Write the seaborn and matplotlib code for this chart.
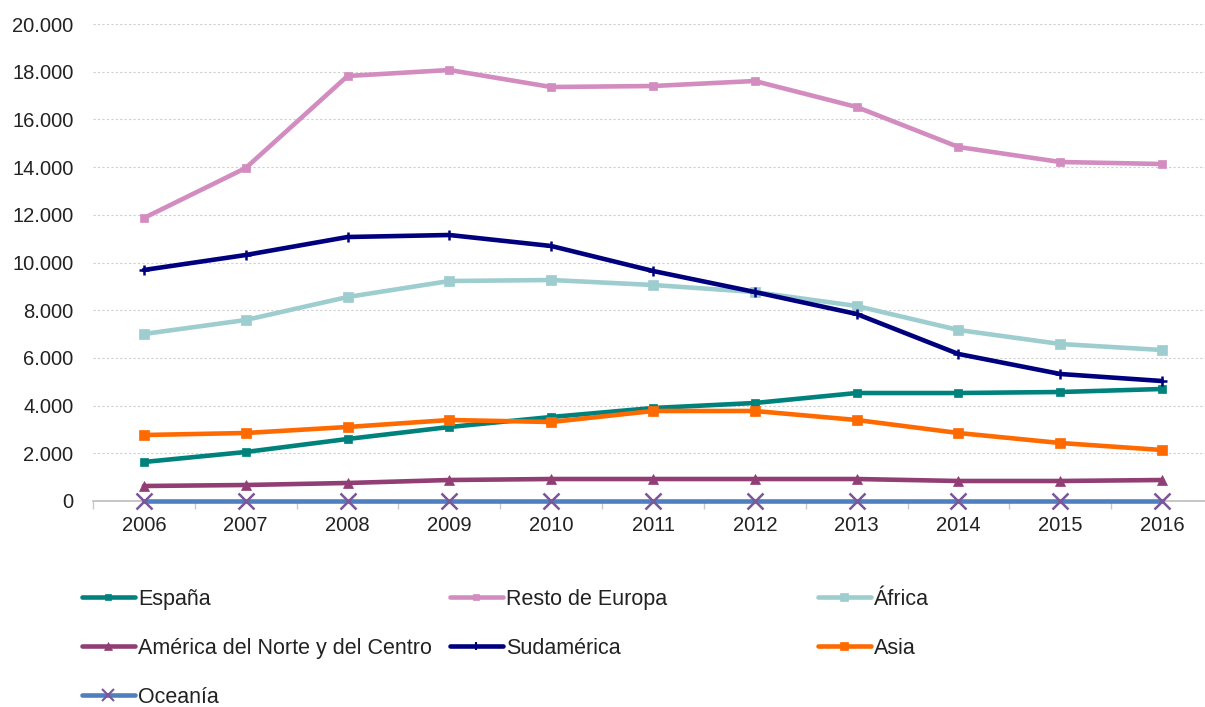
import pandas as pd
import seaborn as sns
from matplotlib import pyplot as plt
from matplotlib.lines import Line2D
from matplotlib.ticker import FuncFormatter, MultipleLocator

years = list(range(2006, 2017))

espana = [1635, 2055, 2600, 3103, 3522, 3899, 4109, 4528, 4528, 4570, 4696]
resto_europa = [11866, 13962, 17820, 18071, 17358, 17400, 17610, 16520, 14843, 14214, 14130]
africa = [7002, 7589, 8553, 9224, 9266, 9057, 8763, 8176, 7170, 6583, 6331]
america_nc = [629, 671, 755, 880, 922, 922, 922, 922, 839, 839, 880]
sudamerica = [9686, 10314, 11069, 11153, 10692, 9644, 8763, 7841, 6164, 5325, 5031]
asia = [2767, 2851, 3103, 3396, 3312, 3774, 3774, 3396, 2851, 2432, 2138]
oceania = [20, 20, 20, 20, 20, 20, 20, 20, 20, 20, 20]

series = [
    # name, values, line colour, marker, marker size, marker colour
    ("España", espana, "#00827C", "s", 6, "#00827C"),
    ("Resto de Europa", resto_europa, "#D38CBF", "s", 6, "#D38CBF"),
    ("África", africa, "#9ECDD0", "s", 7, "#9ECDD0"),
    ("América del Norte y del Centro", america_nc, "#913E75", "^", 7, "#913E75"),
    ("Sudamérica", sudamerica, "#00007F", "+", 7, "#00007F"),
    ("Asia", asia, "#FF6A00", "s", 7, "#FF6A00"),
    ("Oceanía", oceania, "#4F7FBE", "x", 11, "#7A569A"),
]

FS = 14.5
LEG_FS = 15.5


def main():
    sns.set_style("white")
    plt.rcParams["font.family"] = ["Liberation Sans", "DejaVu Sans"]

    fig = plt.figure(figsize=(12.05, 7.07), dpi=100)
    ax = fig.add_axes([93 / 1205, 206 / 707, 1120 / 1205, 477 / 707])

    handles = {}
    for name, vals, color, marker, msize, mcolor in series:
        df = pd.DataFrame({"year": years, "value": vals})
        sns.lineplot(
            data=df, x="year", y="value", ax=ax, color=color, linewidth=3.3,
            marker=marker, markersize=msize, markerfacecolor=mcolor,
            markeredgecolor=mcolor, markeredgewidth=1.8 if marker in "x+" else 0.5,
            zorder=3, clip_on=False,
        )
        handles[name] = Line2D(
            [], [], color=color, linewidth=3.3, marker=marker, markersize=msize * 0.8,
            markerfacecolor=mcolor, markeredgecolor=mcolor,
            markeredgewidth=1.5 if marker in "x+" else 0.5,
        )

    ax.set_xlim(2005.5, 2016.5)
    ax.set_ylim(0, 20000)
    ax.set_xticks(years)
    ax.xaxis.set_minor_locator(MultipleLocator(1, offset=0.5))
    ax.yaxis.set_major_locator(MultipleLocator(2000))
    ax.yaxis.set_major_formatter(
        FuncFormatter(lambda v, _: f"{int(v):,}".replace(",", "."))
    )
    ax.tick_params(axis="x", which="major", length=0, pad=11, labelsize=FS, colors="#222222")
    ax.tick_params(axis="x", which="minor", length=6, width=1, color="#c8c8c8", direction="out", bottom=True)
    ax.tick_params(axis="y", length=0, pad=14, labelsize=FS, colors="#222222")
    ax.set_xlabel("")
    ax.set_ylabel("")

    ax.grid(axis="y", color="#cfcfcf", linestyle=(0, (2, 2)), linewidth=0.8)
    ax.set_axisbelow(True)
    for side in ["left", "right", "top"]:
        ax.spines[side].set_visible(False)
    ax.spines["bottom"].set_color("#bdbdbd")
    ax.spines["bottom"].set_linewidth(1.2)

    columns = [
        (82, ["España", "América del Norte y del Centro", "Oceanía"]),
        (450, ["Resto de Europa", "Sudamérica"]),
        (818, ["África", "Asia"]),
    ]
    for x_px, names in columns:
        fig.legend(
            [handles[n] for n in names], names,
            loc="upper left", bbox_to_anchor=(x_px / 1205, 118 / 707),
            frameon=False, fontsize=LEG_FS, handlelength=2.45, handletextpad=0.15,
            labelspacing=1.29, borderpad=0, borderaxespad=0,
            labelcolor="#222222",
        )

    fig.savefig("out.png", dpi=100)


if __name__ == "__main__":
    main()
